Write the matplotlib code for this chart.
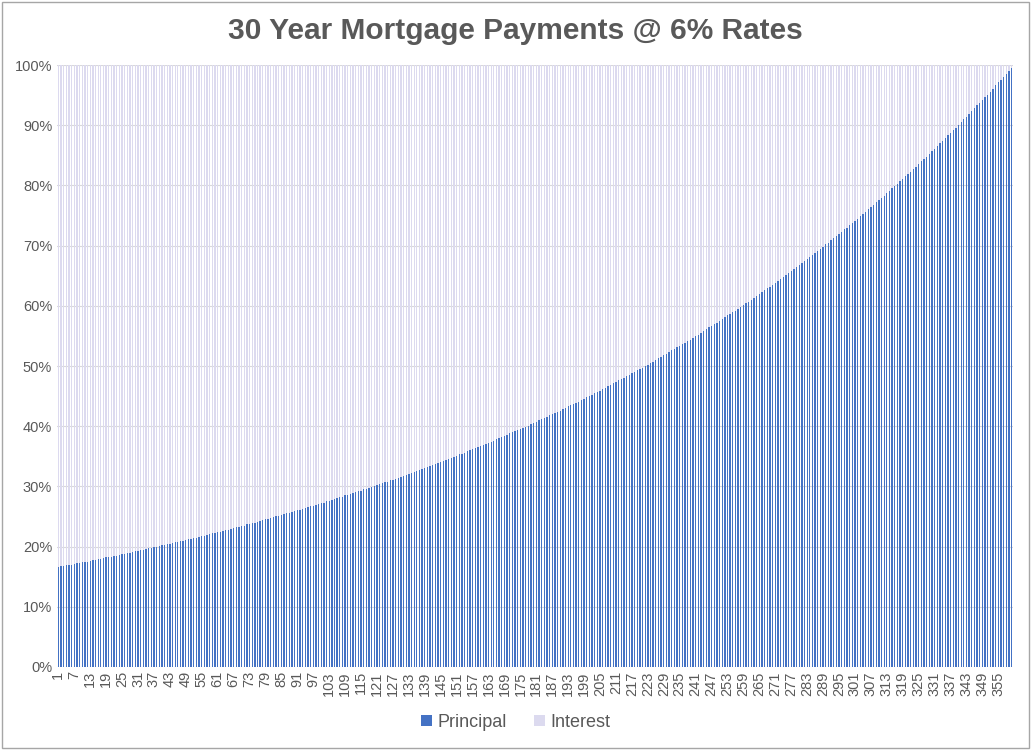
import numpy as np
import matplotlib.pyplot as plt
from matplotlib.patches import Rectangle
from matplotlib.ticker import PercentFormatter

# share of each monthly payment going to principal, months 1..360
principal = [
    .166, .167, .168, .169, .169, .170, .171, .172, .173, .174, .175, .175,
    .176, .177, .178, .179, .180, .181, .182, .183, .183, .184, .185, .186,
    .187, .188, .189, .190, .191, .192, .193, .194, .195, .196, .197, .198,
    .199, .200, .201, .202, .203, .204, .205, .206, .207, .208, .209, .210,
    .211, .212, .213, .214, .215, .216, .217, .218, .220, .221, .222, .223,
    .224, .225, .226, .227, .228, .230, .231, .232, .233, .234, .235, .237,
    .238, .239, .240, .241, .243, .244, .245, .246, .247, .249, .250, .251,
    .252, .254, .255, .256, .258, .259, .260, .261, .263, .264, .265, .267,
    .268, .269, .271, .272, .273, .275, .276, .278, .279, .280, .282, .283,
    .285, .286, .287, .289, .290, .292, .293, .295, .296, .298, .299, .301,
    .302, .304, .305, .307, .308, .310, .311, .313, .314, .316, .318, .319,
    .321, .322, .324, .326, .327, .329, .330, .332, .334, .335, .337, .339,
    .341, .342, .344, .346, .347, .349, .351, .353, .354, .356, .358, .360,
    .362, .363, .365, .367, .369, .371, .372, .374, .376, .378, .380, .382,
    .384, .386, .388, .390, .392, .394, .395, .397, .399, .401, .403, .405,
    .407, .410, .412, .414, .416, .418, .420, .422, .424, .426, .428, .430,
    .433, .435, .437, .439, .441, .444, .446, .448, .450, .452, .455, .457,
    .459, .462, .464, .466, .469, .471, .473, .476, .478, .480, .483, .485,
    .488, .490, .493, .495, .497, .500, .502, .505, .507, .510, .513, .515,
    .518, .520, .523, .526, .528, .531, .533, .536, .539, .541, .544, .547,
    .550, .552, .555, .558, .561, .564, .566, .569, .572, .575, .578, .581,
    .584, .586, .589, .592, .595, .598, .601, .604, .607, .610, .613, .616,
    .620, .623, .626, .629, .632, .635, .638, .642, .645, .648, .651, .654,
    .658, .661, .664, .668, .671, .674, .678, .681, .685, .688, .691, .695,
    .698, .702, .705, .709, .712, .716, .720, .723, .727, .730, .734, .738,
    .741, .745, .749, .753, .756, .760, .764, .768, .772, .775, .779, .783,
    .787, .791, .795, .799, .803, .807, .811, .815, .819, .823, .827, .831,
    .836, .840, .844, .848, .852, .857, .861, .865, .870, .874, .878, .883,
    .887, .892, .896, .901, .905, .910, .914, .919, .923, .928, .933, .937,
    .942, .947, .951, .956, .961, .966, .971, .975, .980, .985, .990, .995,
]
months = list(range(1, 361))

principal = np.array(principal)
interest = 1 - principal

plt.rcParams['font.family'] = ['Liberation Sans', 'DejaVu Sans']

fig = plt.figure(figsize=(10.31, 7.5), dpi=100)
ax = fig.add_axes([0.0553, 0.1107, 0.9272, 0.8026])

x = np.arange(len(months))
ax.bar(x, principal, width=0.5, color='#4472C4', label='Principal', zorder=2)
ax.bar(x, interest, width=0.5, bottom=principal, color='#DCDAEF', label='Interest', zorder=2)

ax.set_ylim(0, 1)
ax.set_xlim(-0.5, len(months) - 0.5)
ax.set_yticks(np.arange(0, 1.01, 0.1))
ax.yaxis.set_major_formatter(PercentFormatter(1.0, decimals=0))
ax.set_xticks(x[::6])
ax.set_xticklabels([str(m) for m in months[::6]], rotation=90)
ax.tick_params(axis='both', length=0, labelsize=10.5, colors='#595959')
ax.tick_params(axis='x', pad=3)
ax.grid(axis='y', color='#D9D9D9', linewidth=0.8, zorder=0)
for s in ax.spines.values():
    s.set_visible(False)

fig.suptitle('30 Year Mortgage Payments @ 6% Rates', y=0.977, fontsize=21.5,
             fontweight='bold', color='#595959')

fig.legend(loc='center', bbox_to_anchor=(0.5, 0.037), ncol=2, frameon=False,
           fontsize=13, labelcolor='#595959', handlelength=0.6, handleheight=0.6,
           handletextpad=0.3, columnspacing=1.5)

fig.patches.append(Rectangle((0.002, 0.003), 0.996, 0.994, transform=fig.transFigure,
                             fill=False, edgecolor='#A6A6A6', linewidth=1))

fig.savefig('out.png', dpi=100)
